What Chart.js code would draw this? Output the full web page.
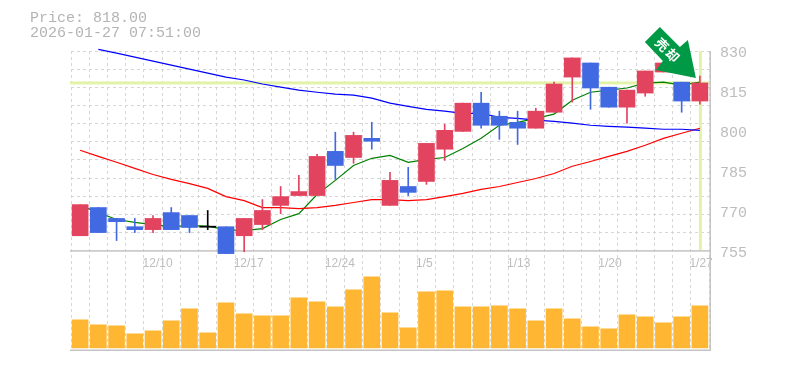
<!DOCTYPE html>
<html>
<head>
<meta charset="utf-8">
<script src="https://cdn.jsdelivr.net/npm/chart.js@4/dist/chart.umd.min.js"></script>
<style>
  html, body { margin: 0; padding: 0; background: #fff; overflow: hidden; }
  #wrap { position: relative; width: 785px; height: 370px; }
  #title { position: absolute; left: 30px; top: 11px; font: 15px/15px "Liberation Mono", monospace; color: #b4b4b4; white-space: pre; }
</style>
</head>
<body>
<div id="wrap">
  <canvas id="StockChart" width="785" height="370"></canvas>
  <div id="title">Price: 818.00
2026-01-27 07:51:00</div>
</div>
<script>
(function () {
  "use strict";

  const dates = ['12/4', '12/5', '12/8', '12/9', '12/10', '12/11', '12/12', '12/15', '12/16', '12/17', '12/18', '12/19', '12/22', '12/23', '12/24', '12/25', '12/26', '12/29', '12/30', '1/5', '1/6', '1/7', '1/8', '1/9', '1/13', '1/14', '1/15', '1/16', '1/19', '1/20', '1/21', '1/22', '1/23', '1/26', '1/27'];

  // Prices
  const opens  = [760.6, 771.2, 767.1, 764.0, 762.9, 769.3, 768.2, 764.0, 764.0, 760.6, 764.8, 772.0, 775.7, 775.7, 792.3, 790.0, 797.2, 772.0, 779.1, 781.0, 793.1, 799.8, 810.4, 805.5, 803.2, 801.0, 807.0, 820.2, 825.5, 816.4, 808.9, 814.2, 822.1, 818.3, 811.2];
  const closes = [772.3, 761.8, 765.9, 762.9, 767.1, 762.9, 763.7, 764.0, 753.9, 767.1, 770.1, 775.3, 777.2, 790.4, 787.0, 798.3, 796.1, 781.4, 776.9, 795.3, 800.2, 810.4, 802.1, 802.1, 801.0, 807.4, 817.6, 827.4, 816.1, 808.9, 815.3, 822.5, 825.5, 811.2, 818.0];
  const highs  = [772.3, 771.2, 767.1, 767.1, 768.2, 771.2, 768.2, 770.1, 764.0, 767.1, 774.2, 779.1, 783.3, 791.2, 799.5, 799.5, 803.2, 784.4, 786.3, 795.3, 802.5, 810.4, 814.5, 807.4, 807.4, 808.5, 818.3, 827.4, 825.5, 816.4, 815.3, 822.5, 825.5, 818.3, 820.6];
  const lows   = [760.6, 761.8, 758.8, 761.8, 761.8, 762.9, 761.8, 762.9, 753.9, 754.6, 762.9, 768.9, 775.7, 775.7, 781.8, 787.8, 793.1, 772.0, 775.7, 779.9, 788.9, 799.8, 801.0, 796.8, 794.9, 801.0, 807.0, 810.8, 808.1, 808.9, 802.9, 813.0, 822.1, 807.0, 810.0];

  const ma_short = [772.0, 769.3, 766.7, 765.6, 764.8, 764.0, 764.4, 764.2, 762.9, 762.5, 763.3, 766.7, 768.9, 776.1, 781.4, 787.0, 789.7, 790.8, 788.2, 789.3, 790.0, 793.4, 797.2, 802.1, 803.2, 804.7, 806.3, 811.5, 814.5, 815.3, 816.1, 817.9, 818.3, 817.2, 818.3];
  const ma_mid   = [792.7, 790.4, 788.2, 785.9, 783.6, 781.8, 780.2, 778.4, 775.3, 773.8, 771.2, 771.2, 770.8, 771.2, 772.0, 773.1, 774.2, 774.2, 773.8, 774.2, 775.3, 776.5, 778.0, 779.1, 780.6, 782.1, 784.0, 786.7, 788.5, 790.4, 792.3, 794.6, 797.2, 799.1, 801.0];
  const ma_long  = [null, 830.6, 829.2, 827.7, 826.2, 824.7, 823.2, 821.7, 820.2, 819.1, 817.6, 816.4, 815.3, 814.5, 813.8, 813.4, 812.3, 810.4, 809.2, 808.1, 807.4, 806.6, 806.6, 805.1, 804.7, 804.0, 803.6, 802.9, 802.1, 801.7, 801.4, 801.0, 800.6, 800.6, 800.2];

  const volumes = [28, 23, 22, 14, 17, 27, 39, 15, 45, 34, 32, 32, 50, 46, 41, 58, 71, 35, 20, 56, 57, 41, 41, 42, 39, 27, 39, 29, 21, 19, 33, 31, 25, 31, 42];

  const price_ticks = [755, 770, 785, 800, 815, 830];
  const grid_rows = 11;
  const last_price = 818;
  const arrow_text = ['売', '却'];

  // Colors
  const red_candle  = '#e2445f';
  const blue_candle = '#4169e1';
  const text_gray   = '#bdbdbd';
  const grid_gray   = '#d6d6d6';
  const axis_gray   = '#c4c4c4';
  const mark_yellow = '#e2f3a8';

  function candleColor(i) {
    if (closes[i] > opens[i]) return red_candle;
    if (closes[i] < opens[i]) return blue_candle;
    return '#000000';
  }
  const candle_colors = dates.map(function (d, i) { return candleColor(i); });

  // last price line and current day line, under the candles
  const priceMarks = {
    id: 'priceMarks',
    beforeDatasetsDraw: function (chart) {
      const ctx = chart.ctx, area = chart.chartArea;
      const py = chart.scales.y.getPixelForValue(last_price);
      const px = chart.scales.x.getPixelForValue(dates.length - 1);
      const left = area.left - 1, right = area.right + 1;
      ctx.save();
      ctx.fillStyle = mark_yellow;
      ctx.fillRect(left, py - 1.5, right - left, 3);
      ctx.fillRect(px - 1, chart.scales.y.top, 3, chart.scales.y.bottom - chart.scales.y.top);
      // solid frame lines
      ctx.fillStyle = axis_gray;
      ctx.fillRect(left, chart.scales.y.bottom - 0.5, right - left, 1.5);
      ctx.fillRect(left, area.bottom - 0.5, right - left + 1, 1.5);
      ctx.fillRect(right - 0.5, area.top, 1.5, area.bottom - area.top);
      ctx.restore();
    }
  };

  // green arrow over the last candles
  const arrowBadge = {
    id: 'arrowBadge',
    afterDatasetsDraw: function (chart) {
      const ctx = chart.ctx;
      const tipX = chart.scales.x.getPixelForValue(dates.length - 1) - 4;
      const tipY = chart.scales.y.getPixelForValue(last_price) - 5;
      const outline = [[-51, -36], [-36, -51], [-16, -31], [-8, -38], [0, 0], [-40, -8], [-33, -17]];
      ctx.save();
      ctx.translate(tipX, tipY);
      ctx.fillStyle = '#009a46';
      ctx.beginPath();
      outline.forEach(function (p, i) {
        if (i === 0) ctx.moveTo(p[0], p[1]); else ctx.lineTo(p[0], p[1]);
      });
      ctx.closePath();
      ctx.fill();
      ctx.fillStyle = '#ffffff';
      ctx.font = 'bold 13px "Noto Sans CJK JP"';
      ctx.textAlign = 'center';
      ctx.textBaseline = 'middle';
      ctx.translate(-28.5, -28);
      ctx.rotate(Math.PI / 4);
      ctx.fillText(arrow_text[0], -7.5, 0);
      ctx.fillText(arrow_text[1], 7.5, 0);
      ctx.restore();
    }
  };

  new Chart(document.getElementById('StockChart').getContext('2d'), {
    type: 'bar',
    plugins: [priceMarks, arrowBadge],
    data: {
      labels: dates,
      datasets: [
        {
          type: 'line',
          data: ma_short,
          borderColor: '#008000',
          borderWidth: 1.2,
          pointRadius: 0,
          tension: 0,
          yAxisID: 'y',
          clip: false,
          order: 5
        },
        {
          type: 'line',
          data: ma_mid,
          borderColor: '#ff0000',
          borderWidth: 1.2,
          pointRadius: 0,
          tension: 0,
          yAxisID: 'y',
          clip: false,
          order: 4
        },
        {
          type: 'line',
          data: ma_long,
          borderColor: '#0000ff',
          borderWidth: 1.2,
          pointRadius: 0,
          tension: 0,
          yAxisID: 'y',
          clip: false,
          order: 3
        },
        {
          data: dates.map(function (d, i) { return [lows[i], highs[i]]; }),
          backgroundColor: candle_colors,
          barThickness: 1,
          yAxisID: 'y',
          clip: false,
          order: 2
        },
        {
          data: dates.map(function (d, i) {
            // doji still needs a visible body
            if (opens[i] === closes[i]) return [opens[i] - 0.2, closes[i] + 0.2];
            return [opens[i], closes[i]];
          }),
          backgroundColor: candle_colors,
          barThickness: 16,
          yAxisID: 'y',
          clip: false,
          order: 1
        },
        {
          data: volumes,
          backgroundColor: '#ffb733',
          barThickness: 16,
          yAxisID: 'vol',
          order: 6
        }
      ]
    },
    options: {
      responsive: false,
      animation: false,
      events: [],
      layout: { padding: { top: 51, left: 71, bottom: 20, right: 1 } },
      datasets: { bar: { grouped: false } },
      plugins: { legend: { display: false }, tooltip: { enabled: false } },
      scales: {
        x: {
          type: 'category',
          position: { y: 755 },
          offset: true,
          grid: { offset: true, color: grid_gray, drawTicks: false, lineWidth: 1 },
          border: { display: false, dash: [3, 3] },
          ticks: {
            autoSkip: false,
            maxRotation: 0,
            align: 'start',
            labelOffset: -10.5,
            color: text_gray,
            padding: 6,
            font: { family: '"Liberation Sans"', size: 12 },
            callback: function (value, index) {
              return index % 5 === 4 ? dates[index] : '';
            }
          }
        },
        y: {
          position: 'right',
          stack: 'panels',
          stackWeight: 199,
          min: 755,
          max: 830,
          afterFit: function (scale) { scale.width = 75; },
          afterBuildTicks: function (scale) {
            const rows = [];
            for (let i = 1; i < grid_rows; i++) rows.push({ value: 755 + i * 75 / grid_rows });
            scale.ticks = price_ticks.map(function (v) { return { value: v, label_tick: true }; }).concat(rows);
          },
          grid: {
            drawTicks: false,
            color: function (c) {
              if (!c.tick) return 'transparent';
              const is_row = !c.tick.label_tick;
              return is_row || c.tick.value === 830 ? grid_gray : 'transparent';
            }
          },
          border: { display: false, dash: [3, 3] },
          ticks: {
            autoSkip: false,
            color: text_gray,
            padding: 11,
            labelOffset: 2.5,
            font: { family: '"Liberation Mono"', size: 15 },
            callback: function (value) {
              return price_ticks.indexOf(value) >= 0 ? String(value) : '';
            }
          }
        },
        vol: {
          position: 'right',
          stack: 'panels',
          stackWeight: 99,
          min: -2,
          max: 97,
          afterFit: function (scale) { scale.width = 75; },
          grid: { display: false },
          border: { display: false },
          ticks: { display: false }
        }
      }
    }
  });
})();
</script>
</body>
</html>
